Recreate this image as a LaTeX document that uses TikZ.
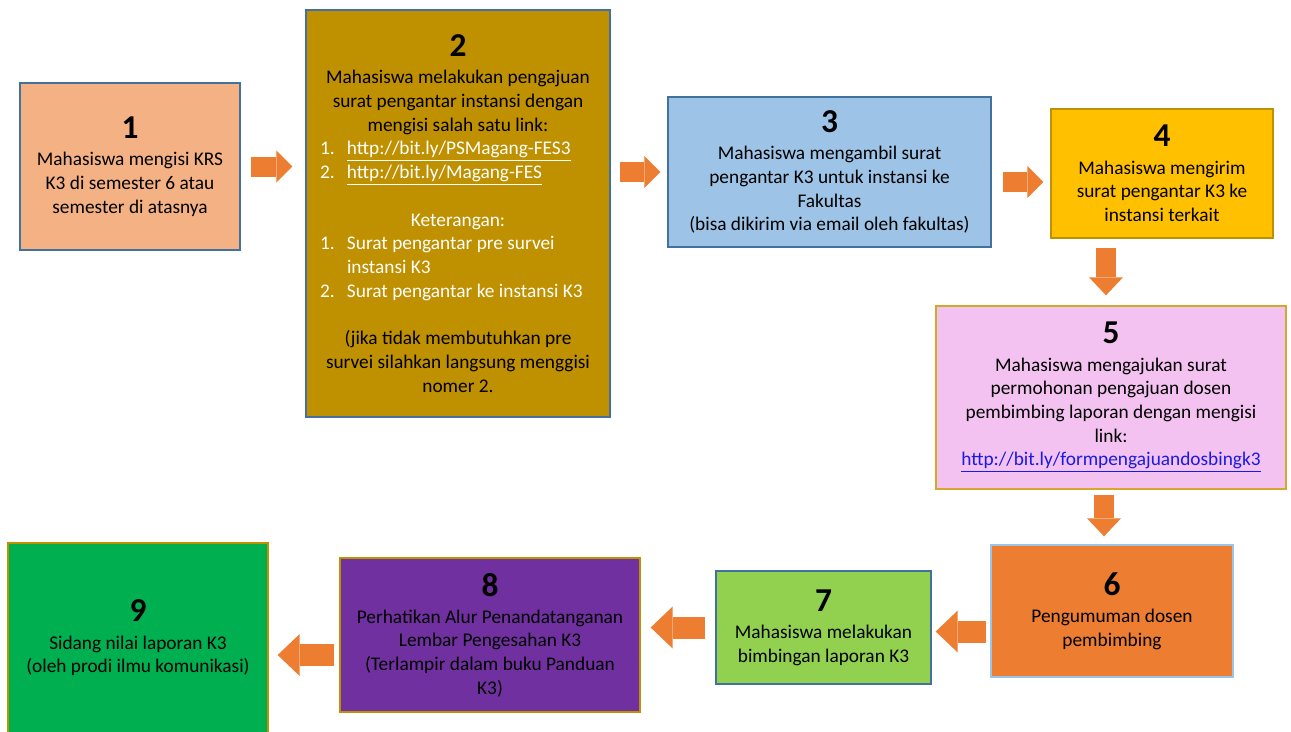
\documentclass[tikz,border=0pt]{standalone}
\usepackage{fontspec}
\setmainfont{Carlito}
\usepackage{xcolor}
\usepackage{tikz}
\usetikzlibrary{arrows.meta}

\newlength\pxu
\setlength\pxu{0.02cm}
\definecolor{arr}{HTML}{ED7D31}
\definecolor{blueline}{HTML}{41719C}
\definecolor{goldline}{HTML}{BF9000}
\definecolor{pinkline}{HTML}{D6A72B}
\definecolor{skyline}{HTML}{9DC3E6}
\definecolor{linkblue}{HTML}{1A1AE6}
\definecolor{fillone}{HTML}{F4B183}
\definecolor{filltwo}{HTML}{BF9000}
\definecolor{fillthree}{HTML}{9DC3E6}
\definecolor{fillfour}{HTML}{FFC000}
\definecolor{fillfive}{HTML}{F4C2F0}
\definecolor{fillsix}{HTML}{ED7D31}
\definecolor{fillseven}{HTML}{92D050}
\definecolor{filleight}{HTML}{7030A0}
\definecolor{fillnine}{HTML}{00B050}
\newcommand{\stepno}[1]{{\fontsize{19}{20}\selectfont\bfseries #1}}
\newcommand{\listrow}[2]{\makebox[280\pxu][l]{\color{white}\hspace*{2\pxu}\makebox[27\pxu][l]{#1}#2}}

\begin{document}
\begin{tikzpicture}[x=0.02cm, y=-0.02cm]
% Node styles ---
\tikzstyle{stepbox} = [rectangle, line width = 0.8pt, align = center, inner sep = 0pt, font = \fontsize{11}{13.5}\selectfont] % Steps
% Edge styles
\tikzstyle{flowtop} = [draw = arr, line width = 0.4cm, -{Triangle[length = 0.32cm, width = 0.64cm, line width = 0pt]}] % Upper row
\tikzstyle{flowdown} = [draw = arr, line width = 0.4cm, -{Triangle[length = 0.36cm, width = 0.68cm, line width = 0pt]}] % Downwards
\tikzstyle{flowback} = [draw = arr, line width = 0.44cm, -{Triangle[length = 0.44cm, width = 0.84cm, line width = 0pt]}] % Lower row
% Begin Figure ---
\useasboundingbox (0,0) rectangle (1291,731);
% Nodes
\node at (130,166.5) [stepbox, draw = blueline, fill = fillone, minimum width = 4.4cm, minimum height = 3.34cm] (s1)
  {\stepno{1}\\[2pt] Mahasiswa mengisi KRS\\ K3 di semester 6 atau\\ semester di atasnya};
\node at (458,213.5) [stepbox, draw = blueline, fill = filltwo, minimum width = 6.08cm, minimum height = 8.14cm] (s2)
  {\stepno{2}\\[2pt] Mahasiswa melakukan pengajuan\\ surat pengantar instansi dengan\\ mengisi salah satu link:\\
   \listrow{1.}{\underline{http://bit.ly/PSMagang-FES3}}\\ \listrow{2.}{\underline{http://bit.ly/Magang-FES}}\\[13.5pt]
   \textcolor{white}{Keterangan:}\\ \listrow{1.}{Surat pengantar pre survei}\\ \listrow{}{instansi K3}\\
   \listrow{2.}{Surat pengantar ke instansi K3}\\[13.5pt]
   (jika tidak membutuhkan pre\\ survei silahkan langsung menggisi\\ nomer 2.};
\node at (829.5,172) [stepbox, draw = blueline, fill = fillthree, minimum width = 6.46cm, minimum height = 3cm] (s3)
  {\stepno{3}\\[2pt] Mahasiswa mengambil surat\\ pengantar K3 untuk instansi ke\\ Fakultas\\ (bisa dikirim via email oleh fakultas)};
\node at (1162,173.5) [stepbox, draw = goldline, fill = fillfour, minimum width = 4.44cm, minimum height = 2.58cm] (s4)
  {\stepno{4}\\[2pt] Mahasiswa mengirim\\ surat pengantar K3 ke\\ instansi terkait};
\node at (1111,397.5) [stepbox, draw = pinkline, fill = fillfive, minimum width = 7cm, minimum height = 3.66cm] (s5)
  {\stepno{5}\\[2pt] Mahasiswa mengajukan surat\\ permohonan pengajuan dosen\\ pembimbing laporan dengan mengisi\\ link:\\
   \textcolor{linkblue}{\underline{http://bit.ly/formpengajuandosbingk3}}};
\node at (1112,611) [stepbox, draw = skyline, fill = fillsix, minimum width = 4.84cm, minimum height = 2.64cm] (s6)
  {\stepno{6}\\[2pt] Pengumuman dosen\\ pembimbing};
\node at (823.5,627.5) [stepbox, draw = blueline, fill = fillseven, minimum width = 4.3cm, minimum height = 2.26cm] (s7)
  {\stepno{7}\\[2pt] Mahasiswa melakukan\\ bimbingan laporan K3};
\node at (490,635) [stepbox, draw = goldline, fill = filleight, minimum width = 6cm, minimum height = 3.08cm] (s8)
  {\stepno{8}\\[2pt] Perhatikan Alur Penandatanganan\\ Lembar Pengesahan K3\\ (Terlampir dalam buku Panduan\\ K3)};
\node at (138,638) [stepbox, draw = goldline, fill = fillnine, minimum width = 5.2cm, minimum height = 3.8cm] (s9)
  {\stepno{9}\\[2pt] Sidang nilai laporan K3\\ (oleh prodi ilmu komunikasi)};
% Paths
\path (s1.east) edge [flowtop, shorten <= 0.2cm, shorten >= 0.26cm] (s1.east -| s2.west);
\path (s2.east |- s3.west) edge [flowtop, shorten <= 0.18cm, shorten >= 0.14cm] (s3.west);
\path ([yshift = -0.2cm]s3.east) edge [flowtop, shorten <= 0.22cm, shorten >= 0.14cm] ([yshift = -0.2cm]s3.east -| s4.west);
\path ([xshift = -0.1cm]s4.south -| s5.north) edge [flowdown, shorten <= 0.18cm, shorten >= 0.2cm] ([xshift = -0.1cm]s5.north);
\path ([xshift = -0.14cm]s5.south) edge [flowdown, shorten <= 0.1cm, shorten >= 0.16cm] ([xshift = -0.14cm]s5.south |- s6.north);
\path ([yshift = -0.08cm]s6.west |- s7.east) edge [flowback, shorten <= 0.08cm, shorten >= 0.08cm] ([yshift = -0.08cm]s7.east);
\path (s7.west) edge [flowback, shorten <= 0.2cm, shorten >= 0.2cm] (s7.west -| s8.east);
\path ([yshift = -0.4cm]s8.west) edge [flowback, shorten <= 0.1cm, shorten >= 0.18cm] ([yshift = -0.4cm]s8.west -| s9.east);
\end{tikzpicture}
\end{document}
